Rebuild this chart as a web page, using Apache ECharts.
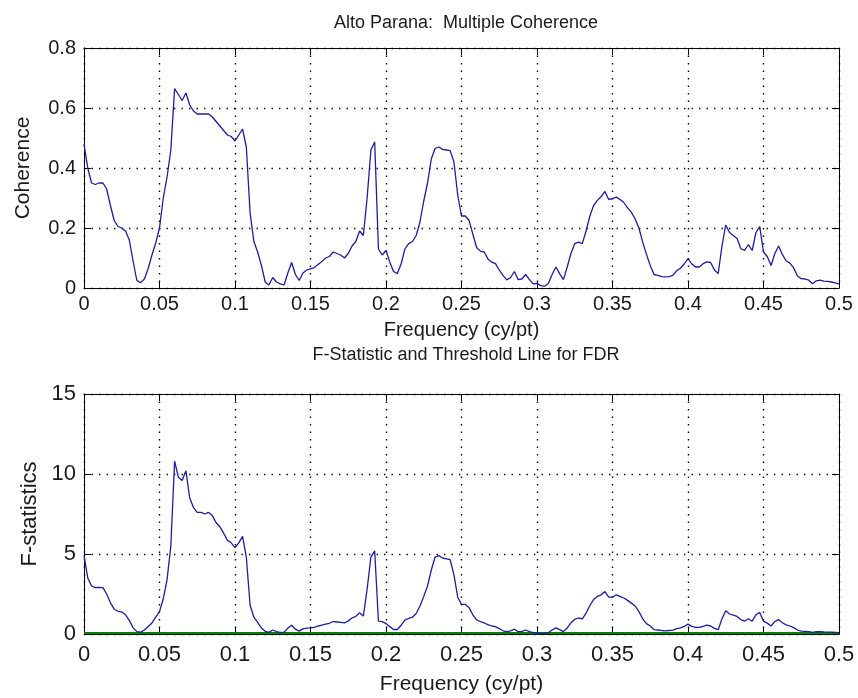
<!DOCTYPE html>
<html>
<head>
<meta charset="utf-8">
<title>Alto Parana: Multiple Coherence</title>
<script src="https://cdn.jsdelivr.net/npm/echarts@6/dist/echarts.min.js"></script>
<style>
  html, body { margin: 0; padding: 0; background: #ffffff; }
  #chart { width: 858px; height: 698px; }
</style>
</head>
<body>
<div id="chart"></div>
<script>
// Frequency grid (cycles per point), 0 .. 0.5
const freq = [
  0, 0.0025, 0.005, 0.0075, 0.01, 0.0125, 0.015, 0.0175, 0.02, 0.0225,
  0.025, 0.0275, 0.03, 0.0325, 0.035, 0.0375, 0.04, 0.0425, 0.045, 0.0475,
  0.05, 0.0525, 0.055, 0.0575, 0.06, 0.0625, 0.065, 0.0675, 0.07, 0.0725,
  0.075, 0.0775, 0.08, 0.0825, 0.085, 0.0875, 0.09, 0.0925, 0.095, 0.0975,
  0.1, 0.1025, 0.105, 0.1075, 0.11, 0.1125, 0.115, 0.1175, 0.12, 0.1225,
  0.125, 0.1275, 0.13, 0.1325, 0.135, 0.1375, 0.14, 0.1425, 0.145, 0.1475,
  0.15, 0.1525, 0.155, 0.1575, 0.16, 0.1625, 0.165, 0.1675, 0.17, 0.1725,
  0.175, 0.1775, 0.18, 0.1825, 0.185, 0.1875, 0.19, 0.1925, 0.195, 0.1975,
  0.2, 0.2025, 0.205, 0.2075, 0.21, 0.2125, 0.215, 0.2175, 0.22, 0.2225,
  0.225, 0.2275, 0.23, 0.2325, 0.235, 0.2375, 0.24, 0.2425, 0.245, 0.2475,
  0.25, 0.2525, 0.255, 0.2575, 0.26, 0.2625, 0.265, 0.2675, 0.27, 0.2725,
  0.275, 0.2775, 0.28, 0.2825, 0.285, 0.2875, 0.29, 0.2925, 0.295, 0.2975,
  0.3, 0.3025, 0.305, 0.3075, 0.31, 0.3125, 0.315, 0.3175, 0.32, 0.3225,
  0.325, 0.3275, 0.33, 0.3325, 0.335, 0.3375, 0.34, 0.3425, 0.345, 0.3475,
  0.35, 0.3525, 0.355, 0.3575, 0.36, 0.3625, 0.365, 0.3675, 0.37, 0.3725,
  0.375, 0.3775, 0.38, 0.3825, 0.385, 0.3875, 0.39, 0.3925, 0.395, 0.3975,
  0.4, 0.4025, 0.405, 0.4075, 0.41, 0.4125, 0.415, 0.4175, 0.42, 0.4225,
  0.425, 0.4275, 0.43, 0.4325, 0.435, 0.4375, 0.44, 0.4425, 0.445, 0.4475,
  0.45, 0.4525, 0.455, 0.4575, 0.46, 0.4625, 0.465, 0.4675, 0.47, 0.4725,
  0.475, 0.4775, 0.48, 0.4825, 0.485, 0.4875, 0.49, 0.4925, 0.495, 0.4975,
  0.5
];

// Multiple coherence estimate
const coherence = [
  0.48, 0.40, 0.35, 0.345, 0.35, 0.35, 0.33, 0.275, 0.225, 0.205,
  0.20, 0.19, 0.16, 0.09, 0.025, 0.018, 0.03, 0.065, 0.11, 0.15,
  0.20, 0.30, 0.37, 0.46, 0.665, 0.645, 0.625, 0.65, 0.61, 0.59,
  0.58, 0.58, 0.58, 0.58, 0.57, 0.555, 0.54, 0.525, 0.51, 0.505,
  0.49, 0.51, 0.53, 0.47, 0.25, 0.155, 0.12, 0.075, 0.02, 0.01,
  0.035, 0.02, 0.014, 0.01, 0.05, 0.085, 0.045, 0.025, 0.05, 0.06,
  0.064, 0.068, 0.078, 0.088, 0.10, 0.105, 0.12, 0.115, 0.11, 0.10,
  0.115, 0.14, 0.155, 0.19, 0.175, 0.30, 0.46, 0.487, 0.13, 0.11,
  0.125, 0.087, 0.055, 0.048, 0.08, 0.13, 0.148, 0.155, 0.175, 0.22,
  0.29, 0.35, 0.43, 0.465, 0.47, 0.462, 0.46, 0.458, 0.42, 0.31,
  0.24, 0.24, 0.225, 0.18, 0.135, 0.123, 0.12, 0.097, 0.086, 0.081,
  0.06, 0.042, 0.027, 0.035, 0.055, 0.028, 0.03, 0.045, 0.028, 0.014,
  0.015, 0.008, 0.006, 0.015, 0.045, 0.07, 0.048, 0.028, 0.07, 0.115,
  0.148, 0.153, 0.148, 0.19, 0.24, 0.275, 0.292, 0.305, 0.322, 0.295,
  0.298, 0.303, 0.295, 0.285, 0.267, 0.252, 0.23, 0.20, 0.153, 0.112,
  0.075, 0.045, 0.042, 0.038, 0.037, 0.038, 0.042, 0.058, 0.066, 0.08,
  0.098, 0.08, 0.07, 0.07, 0.081, 0.087, 0.085, 0.06, 0.048, 0.14,
  0.21, 0.185, 0.175, 0.165, 0.131, 0.125, 0.145, 0.125, 0.185, 0.205,
  0.12, 0.105, 0.075, 0.115, 0.14, 0.112, 0.09, 0.083, 0.067, 0.04,
  0.031, 0.03, 0.026, 0.014, 0.024, 0.026, 0.023, 0.022, 0.02, 0.017,
  0.014
];

// F-statistic at each frequency
const fStat = [
  4.9, 3.5, 3.0, 2.9, 2.92, 2.9, 2.5, 1.95, 1.55, 1.42,
  1.38, 1.2, 0.85, 0.4, 0.15, 0.12, 0.25, 0.47, 0.69, 1.05,
  1.4, 2.2, 3.4, 5.5, 10.8, 9.8, 9.6, 10.2, 8.5, 7.9,
  7.6, 7.6, 7.5, 7.6, 7.4, 6.95, 6.7, 6.3, 5.85, 5.7,
  5.4, 5.7, 6.1, 4.8, 1.8, 1.05, 0.72, 0.38, 0.17, 0.1,
  0.25, 0.15, 0.1, 0.12, 0.37, 0.55, 0.3, 0.18, 0.32, 0.37,
  0.38, 0.42, 0.5, 0.56, 0.62, 0.67, 0.78, 0.75, 0.72, 0.69,
  0.82, 1.0, 1.1, 1.33, 1.12, 2.8, 4.8, 5.2, 0.8, 0.77,
  0.65, 0.46, 0.28, 0.28, 0.55, 0.87, 0.97, 1.05, 1.28, 1.75,
  2.35, 3.0, 4.0, 4.8, 4.9, 4.75, 4.7, 4.65, 3.7, 2.3,
  1.85, 1.85, 1.65, 1.2, 0.88, 0.78, 0.7, 0.58, 0.5, 0.46,
  0.34, 0.2, 0.15, 0.2, 0.3, 0.15, 0.17, 0.25, 0.15, 0.08,
  0.08, 0.05, 0.04, 0.08, 0.25, 0.38, 0.27, 0.15, 0.38, 0.7,
  0.92, 1.0, 0.95, 1.3, 1.78, 2.15, 2.35, 2.45, 2.65, 2.3,
  2.3, 2.45, 2.35, 2.25, 2.1, 1.93, 1.75, 1.4, 0.95, 0.65,
  0.5, 0.28, 0.25, 0.22, 0.2, 0.22, 0.24, 0.33, 0.38, 0.47,
  0.62, 0.48, 0.42, 0.42, 0.48, 0.55, 0.5, 0.35, 0.27, 0.95,
  1.45, 1.25, 1.18, 1.1, 0.9, 0.8, 0.95, 0.8, 1.2, 1.35,
  0.8, 0.68, 0.5, 0.78, 0.9, 0.7, 0.57, 0.5, 0.4, 0.25,
  0.18, 0.17, 0.15, 0.1, 0.14, 0.15, 0.13, 0.12, 0.12, 0.1,
  0.08
];

// FDR threshold level for the F-statistic
const fdrThreshold = [0.06, 0.06];
const thresholdFreq = [0, 0.5];

// Axis tick positions
const freqTicks = [0, 0.05, 0.1, 0.15, 0.2, 0.25, 0.3, 0.35, 0.4, 0.45, 0.5];
const cohTicks = [0, 0.2, 0.4, 0.6, 0.8];
const fTicks = [0, 5, 10, 15];

const FONT = '"Liberation Sans", Arial, Helvetica, sans-serif';
const INK = '#1a1a1a';
const LINE_BLUE = '#1c1ca8';
const THRESH_GREEN = '#0a800a';

function pairs(xs, ys) {
  const n = Math.min(xs.length, ys.length);
  const out = [];
  for (let i = 0; i < n; i++) out.push([xs[i], ys[i]]);
  return out;
}

const dotted = { color: '#000', width: 1.4, type: [1.4, 6.1] };

function fmt(v) { return String(+v.toFixed(4)); }

function xAxesFor(gridIndex, nameText, st) {
  const step = freqTicks[1] - freqTicks[0];
  const base = {
    type: 'value', gridIndex: gridIndex,
    min: freqTicks[0], max: freqTicks[freqTicks.length - 1], interval: step,
    axisLine: { show: true, onZero: false, lineStyle: { color: '#000', width: 1 } },
    axisTick: { show: true, inside: true, length: 7, lineStyle: { color: '#000', width: 1 } }
  };
  return [
    Object.assign({}, base, {
      position: 'bottom',
      name: nameText, nameLocation: 'middle', nameGap: st.nameGap,
      nameTextStyle: { fontFamily: FONT, fontSize: st.nameSize, color: INK },
      axisLabel: { show: true, margin: st.margin, fontFamily: FONT, fontSize: st.size, color: INK, formatter: fmt },
      splitLine: { show: true, lineStyle: dotted }
    }),
    Object.assign({}, base, {
      position: 'top',
      axisLabel: { show: false },
      splitLine: { show: false }
    })
  ];
}

function yAxesFor(gridIndex, ticks, nameText, st) {
  const base = {
    type: 'value', gridIndex: gridIndex,
    min: ticks[0], max: ticks[ticks.length - 1], interval: ticks[1] - ticks[0],
    axisLine: { show: true, onZero: false, lineStyle: { color: '#000', width: 1 } },
    axisTick: { show: true, inside: true, length: 7, lineStyle: { color: '#000', width: 1 } }
  };
  return [
    Object.assign({}, base, {
      position: 'left',
      name: nameText, nameLocation: 'middle', nameGap: st.nameGap,
      nameTextStyle: { fontFamily: FONT, fontSize: st.nameSize, color: INK },
      axisLabel: { show: true, margin: 8, fontFamily: FONT, fontSize: st.size, color: INK, formatter: fmt },
      splitLine: { show: true, lineStyle: dotted }
    }),
    Object.assign({}, base, {
      position: 'right',
      axisLabel: { show: false },
      splitLine: { show: false }
    })
  ];
}

const chart = echarts.init(document.getElementById('chart'), null, { renderer: 'canvas' });

chart.setOption({
  backgroundColor: '#ffffff',
  animation: false,
  title: [
    {
      text: 'Alto Parana:  Multiple Coherence',
      left: 461, top: 9, textAlign: 'center',
      textStyle: { fontFamily: FONT, fontSize: 18, fontWeight: 'normal', color: INK }
    },
    {
      text: 'F-Statistic and Threshold Line for FDR',
      left: 461, top: 341, textAlign: 'center',
      textStyle: { fontFamily: FONT, fontSize: 18, fontWeight: 'normal', color: INK }
    }
  ],
  grid: [
    { left: 84, top: 48, width: 755, height: 240, containLabel: false },
    { left: 84, top: 394, width: 755, height: 240, containLabel: false }
  ],
  xAxis: xAxesFor(0, 'Frequency (cy/pt)', { size: 20, margin: 6, nameGap: 32, nameSize: 20 })
    .concat(xAxesFor(1, 'Frequency (cy/pt)', { size: 22, margin: 10, nameGap: 40, nameSize: 21 })),
  yAxis: yAxesFor(0, cohTicks, 'Coherence', { size: 20, nameGap: 50, nameSize: 21 })
    .concat(yAxesFor(1, fTicks, 'F-statistics', { size: 22, nameGap: 42, nameSize: 22 })),
  series: [
    {
      name: 'Coherence', type: 'line', xAxisIndex: 0, yAxisIndex: 0,
      data: pairs(freq, coherence), showSymbol: false, symbol: 'none',
      lineStyle: { color: LINE_BLUE, width: 1.3 }, z: 3
    },
    {
      name: 'F-statistic', type: 'line', xAxisIndex: 2, yAxisIndex: 2,
      data: pairs(freq, fStat), showSymbol: false, symbol: 'none',
      lineStyle: { color: LINE_BLUE, width: 1.3 }, z: 3
    },
    {
      name: 'FDR threshold', type: 'line', xAxisIndex: 2, yAxisIndex: 2,
      data: pairs(thresholdFreq, fdrThreshold), showSymbol: false, symbol: 'none',
      lineStyle: { color: THRESH_GREEN, width: 2.2 }, z: 2
    }
  ]
});
</script>
</body>
</html>
